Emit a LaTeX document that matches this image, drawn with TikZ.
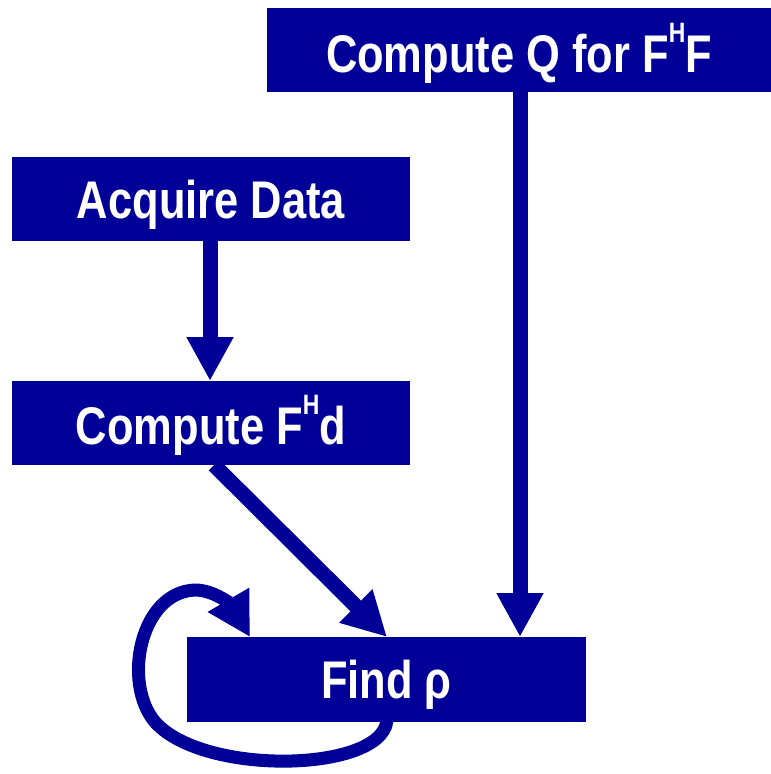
\documentclass[tikz,border=0pt]{standalone}
\usepackage{fontspec}
\setmainfont[FakeStretch=0.82]{Liberation Sans}
\usetikzlibrary{arrows.meta}
\definecolor{boxblue}{RGB}{0,0,153}
\newcommand{\supH}{{\fontsize{28}{28}\selectfont\raisebox{30pt}{H}}}
\begin{document}
\begin{tikzpicture}[x=1pt,y=-1pt,
  stepbox/.style={fill=boxblue, inner sep=0pt, text=white,
    text height=38pt, text depth=0pt,
    font=\fontsize{53}{53}\selectfont\bfseries},
  flow/.style={draw=boxblue, line width=15pt,
    -{Triangle[length=44pt,width=44pt]}},
  loopflow/.style={draw=boxblue, line width=13pt,
    -{Triangle[length=43pt,width=45pt]}}]
  \useasboundingbox (0,0) rectangle (771,774);

  % process boxes
  \node[stepbox, text height=44pt, minimum width=504pt, minimum height=84pt] (q) at (519,50) {Compute Q for F\supH F};
  \node[stepbox, minimum width=398pt, minimum height=84pt] (acq) at (211,199) {Acquire Data};
  \node[stepbox, text height=42pt, minimum width=398pt, minimum height=84pt] (fhd) at (211,423) {Compute F\supH d};
  \node[stepbox, minimum width=399pt, minimum height=85pt] (find) at (386.5,679.5) {Find ρ};

  % anchor points on the box edges
  \coordinate (acqout) at (210,241);
  \coordinate (fhdin) at (210,381);
  \coordinate (fhdout) at (214,465);
  \coordinate (qout) at (520,92);
  \coordinate (findtop) at (387,637);
  \coordinate (findq) at (520,637);
  \coordinate (loopout) at (387,716);
  \coordinate (loopin) at (250,637);

  % connectors
  \draw[flow] (acqout) -- (fhdin);
  \draw[flow] (fhdout) -- (findtop);
  \draw[flow] (qout) -- (findq);

  % iteration loop around the solver box
  \draw[loopflow] (loopout) .. controls (392,772) and (205,778) .. (155,722)
    .. controls (122,683) and (140,592) .. (195,590)
    .. controls (215,590) and (232,606) .. (loopin);
\end{tikzpicture}
\end{document}
